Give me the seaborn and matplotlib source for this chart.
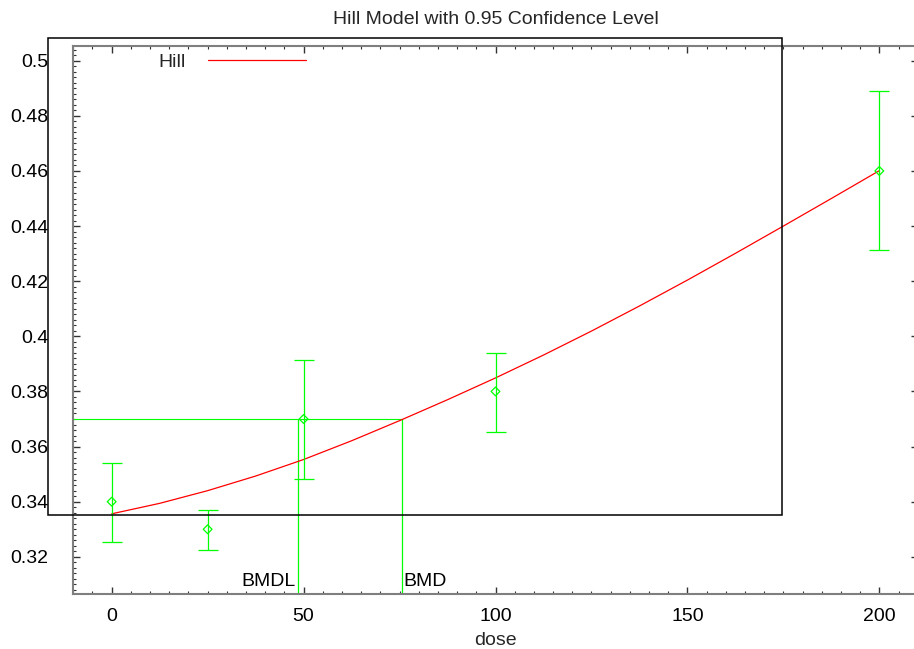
import numpy as np
import pandas as pd
import matplotlib
matplotlib.use("Agg")
import matplotlib.pyplot as plt
import matplotlib.patches as mpatches
from matplotlib.ticker import MultipleLocator
import seaborn as sns

# ---- data ----
doses = [0, 25, 50, 100, 200]
means = [0.340, 0.330, 0.370, 0.380, 0.460]
lower = [0.3253, 0.3224, 0.3483, 0.3653, 0.4312]
upper = [0.3541, 0.3369, 0.3913, 0.3941, 0.4889]

curve_dose = [0, 12.5, 25, 37.5, 50, 62.5, 75, 87.5, 100, 112.5, 125,
              137.5, 150, 162.5, 175, 187.5, 200]
curve_resp = [0.3356, 0.3394, 0.3440, 0.3493, 0.3553, 0.3621, 0.3694,
              0.3770, 0.3849, 0.3932, 0.4019, 0.4110, 0.4204, 0.4301,
              0.4400, 0.4500, 0.4601]

bmd = 75.7
bmdl = 48.5
bmr_level = 0.37

title = "Hill Model with 0.95 Confidence Level"
xlabel = "dose"
model_name = "Hill"

# ---- figure ----
sns.set_style("ticks")
plt.rcParams['font.family'] = ['Liberation Sans', 'DejaVu Sans']
FS = 14

W, H = 914, 649
fig = plt.figure(figsize=(W / 100, H / 100), dpi=100)
ax_left, ax_right, ax_top, ax_bot = 73.3, 917.7, 46.0, 594.3
ax = fig.add_axes([ax_left / W, (H - ax_bot) / H,
                   (ax_right - ax_left) / W, (ax_bot - ax_top) / H])

green = "#00ff00"
red = "#ff0000"

curve_df = pd.DataFrame({"dose": curve_dose, "resp": curve_resp,
                         "model": model_name})
sns.lineplot(data=curve_df, x="dose", y="resp", hue="model",
             palette=[red], linewidth=0.9, ax=ax, zorder=3)

pts = pd.DataFrame({"dose": doses, "mean": means,
                    "lo": lower, "hi": upper})
yerr = np.vstack([pts["mean"] - pts["lo"], pts["hi"] - pts["mean"]])
ax.errorbar(pts["dose"], pts["mean"], yerr=yerr, fmt="none",
            ecolor=green, elinewidth=0.9, capsize=7.2, capthick=0.9,
            zorder=4)
sns.scatterplot(data=pts, x="dose", y="mean", marker="D", s=20,
                facecolor="none", edgecolor=green, linewidth=0.9,
                ax=ax, zorder=5, legend=False)

ymin, ymax = 0.3064, 0.50533
ax.set_xlim(-10, 210)
ax.set_ylim(ymin, ymax)

# BMD / BMDL lines
ax.plot([-10, bmd], [bmr_level, bmr_level], color=green, lw=0.8, zorder=2)
ax.plot([bmd, bmd], [ymin, bmr_level], color=green, lw=0.9, zorder=2)
ax.plot([bmdl, bmdl], [ymin, bmr_level], color=green, lw=0.9, zorder=2)
ax.text(bmdl - 0.6, 0.3095, "BMDL", ha="right", va="baseline",
        fontsize=FS, color="black")
ax.text(bmd + 0.3, 0.3095, "BMD", ha="left", va="baseline",
        fontsize=FS, color="black")

# ticks & spines
spine_col = "#7f7f7f"
for s in ["left", "bottom", "top", "right"]:
    ax.spines[s].set_visible(True)
    ax.spines[s].set_color(spine_col)
    ax.spines[s].set_linewidth(1.5)

ax.xaxis.set_major_locator(MultipleLocator(50))
ax.xaxis.set_minor_locator(MultipleLocator(5))
ax.yaxis.set_major_locator(MultipleLocator(0.02))
ax.yaxis.set_minor_locator(MultipleLocator(0.002))
ax.yaxis.set_major_formatter(matplotlib.ticker.FuncFormatter(
    lambda v, p: ("%.2f" % v).rstrip("0").rstrip(".") if v else "0"))

ax.tick_params(which="both", direction="in", colors="#333333",
               top=True, bottom=True, left=True, right=False,
               labelsize=FS, labelcolor="black")
ax.tick_params(which="major", length=5, width=1.0, right=True)
ax.tick_params(which="minor", length=2.5, width=0.8, right=False)
ax.tick_params(axis="y", which="major", pad=18)
ax.tick_params(axis="x", which="major", pad=10)

ax.set_xlabel(xlabel, fontsize=FS, labelpad=5)
ax.set_ylabel("")
ax.set_title(title, fontsize=FS, pad=16)

# legend
ax.legend(loc="center left", bbox_to_anchor=(158 / W, 1 - 62 / H),
          bbox_transform=fig.transFigure, frameon=False,
          markerfirst=False, fontsize=FS, handlelength=97.4 / 19.44,
          handletextpad=23 / 19.44, borderpad=0, borderaxespad=0)

# black legend-style rectangle
rect = mpatches.Rectangle((47.7 / W, (H - 515) / H),
                          (781.7 - 47.7) / W, (515 - 38.3) / H,
                          transform=fig.transFigure, fill=False,
                          edgecolor="black", linewidth=1.1, zorder=10)
fig.patches.append(rect)

fig.savefig("out.png", dpi=100)
